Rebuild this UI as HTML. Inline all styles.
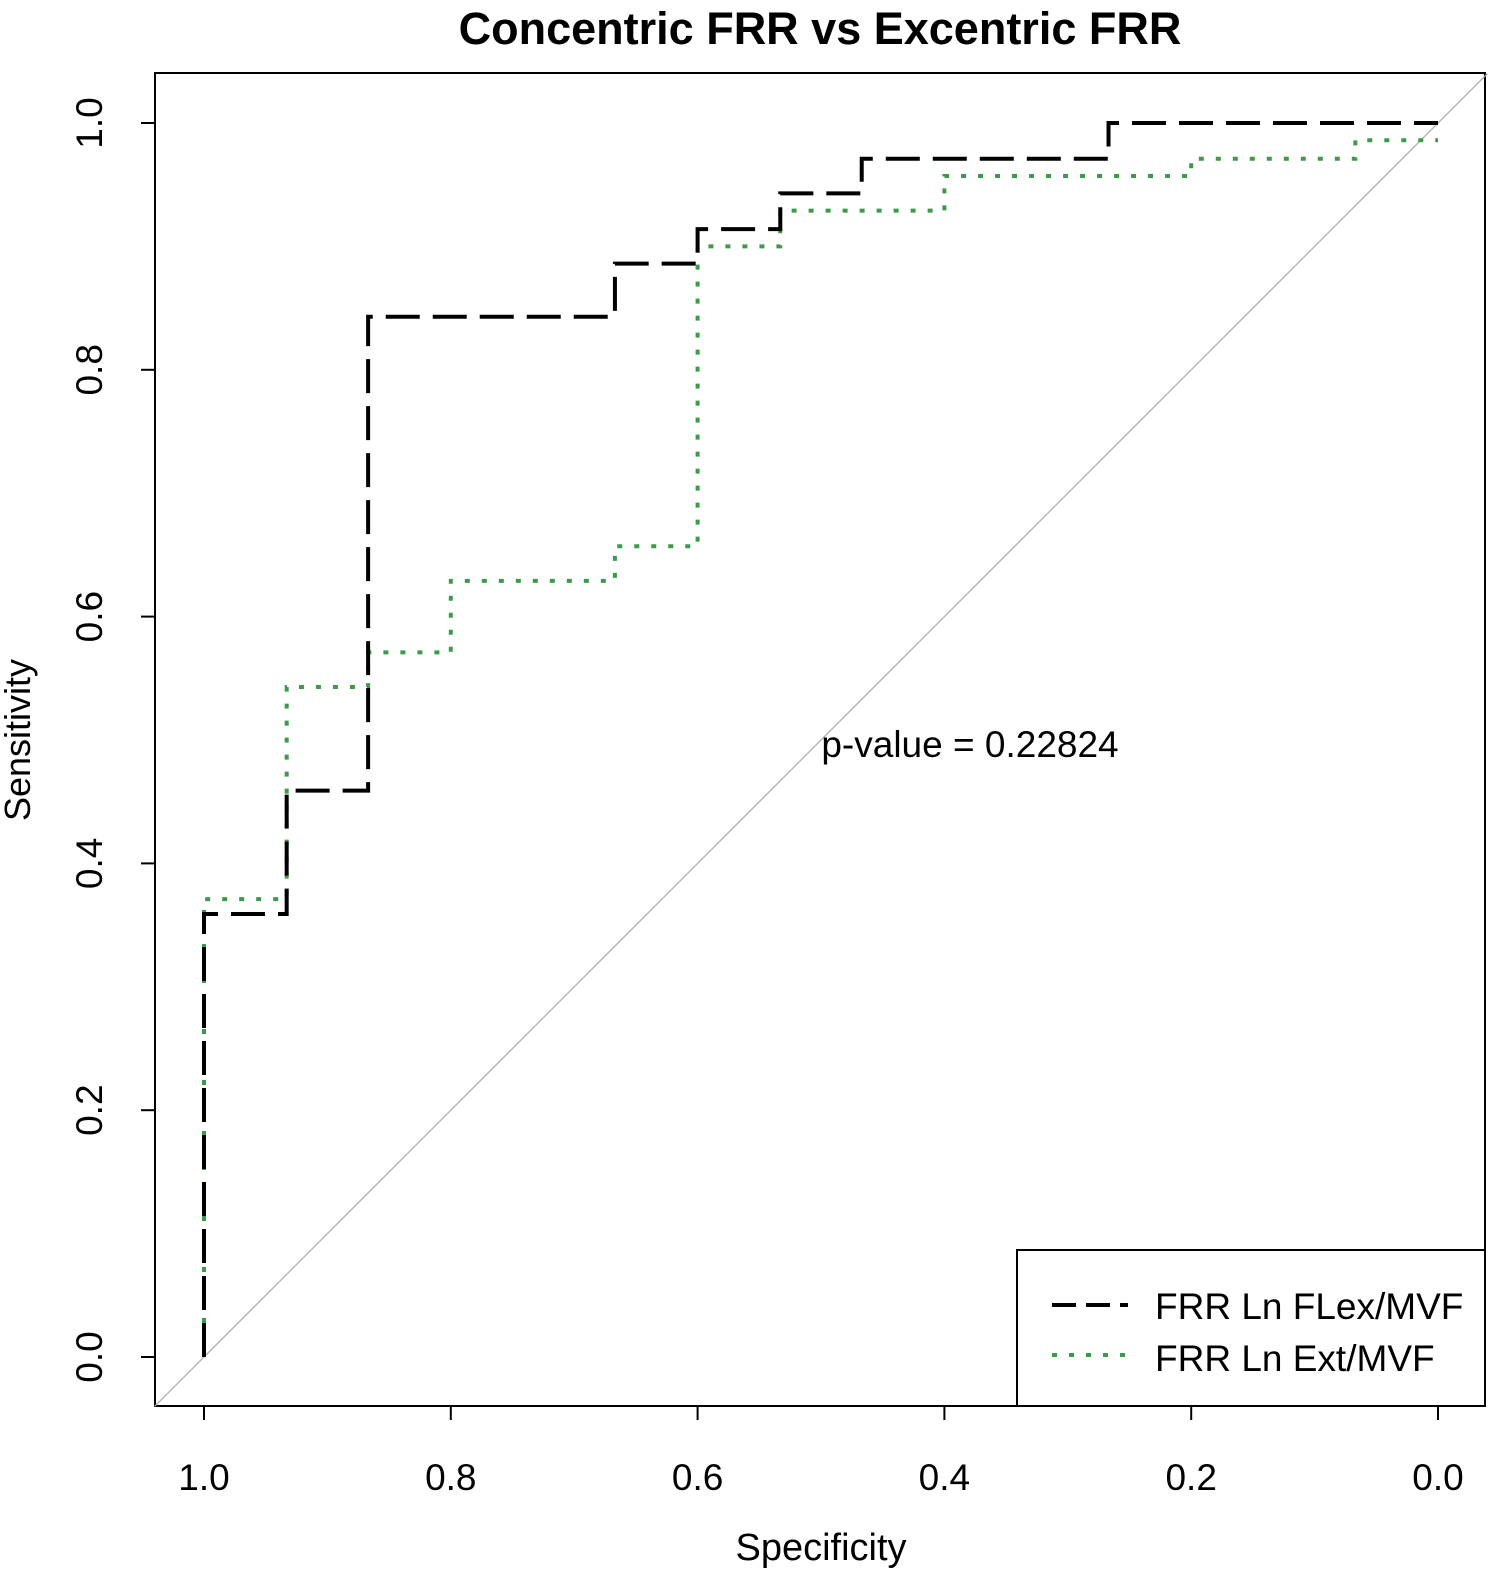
<!DOCTYPE html>
<html><head><meta charset="utf-8"><style>
html,body{margin:0;padding:0;background:#fff;}
svg{display:block;font-family:"Liberation Sans",Arial,sans-serif;}
</style></head><body>
<svg id="chart" width="1493" height="1572" viewBox="0 0 1493 1572">
<text x="820" y="44" text-anchor="middle" font-size="45" font-weight="bold">Concentric FRR vs Excentric FRR</text>
<rect x="155" y="73" width="1330" height="1333" fill="none" stroke="#000" stroke-width="2"/>
<g id="axes"></g>
<g id="series"></g>
<text x="970" y="757" text-anchor="middle" font-size="37">p-value = 0.22824</text>
<text x="821" y="1560" text-anchor="middle" font-size="38">Specificity</text>
<text transform="translate(30,740) rotate(-90)" text-anchor="middle" font-size="36">Sensitivity</text>
<g>
<rect x="1017" y="1250" width="468" height="156" fill="#fff" stroke="#000" stroke-width="2"/>
<line x1="1052" y1="1305" x2="1128" y2="1305" stroke="#000" stroke-width="4" stroke-dasharray="24,10"/>
<text x="1155" y="1319" font-size="37">FRR Ln FLex/MVF</text>
<line x1="1052" y1="1355" x2="1128" y2="1355" stroke="#3d9a4a" stroke-width="4" stroke-dasharray="5,12"/>
<text x="1155" y="1371" font-size="37">FRR Ln Ext/MVF</text>
</g>
</svg>
<script>
const xTicks=[1.0,0.8,0.6,0.4,0.2,0.0];
const xTickLabels=["1.0","0.8","0.6","0.4","0.2","0.0"];
const yTicks=[0,0.2,0.4,0.6,0.8,1.0];
const yTickLabels=["0.0","0.2","0.4","0.6","0.8","1.0"];
const flexSpec=[1,1,0.933,0.933,0.867,0.867,0.667,0.667,0.6,0.6,0.533,0.533,0.467,0.467,0.267,0.267,0];
const flexSens=[0,0.359,0.359,0.459,0.459,0.843,0.843,0.886,0.886,0.914,0.914,0.943,0.943,0.971,0.971,1,1];
const extSpec=[1,1,0.933,0.933,0.867,0.867,0.8,0.8,0.667,0.667,0.6,0.6,0.533,0.533,0.4,0.4,0.2,0.2,0.067,0.067,0];
const extSens=[0,0.371,0.371,0.543,0.543,0.571,0.571,0.629,0.629,0.657,0.657,0.9,0.9,0.929,0.929,0.957,0.957,0.971,0.971,0.986,0.986];
const NS="http://www.w3.org/2000/svg";
const X=v=>1438-v*1234;
const Y=v=>1357-v*1234;
const axes=document.getElementById('axes');
function mk(t,a,p){const e=document.createElementNS(NS,t);for(const k in a)e.setAttribute(k,a[k]);p.appendChild(e);return e;}
const d=mk('line',{x1:X(1.04),y1:Y(-0.04),x2:X(-0.04),y2:Y(1.04),stroke:'#aaa','stroke-width':1.2},axes);


xTicks.forEach((v,i)=>{
 const l=mk('line',{x1:X(v),x2:X(v),y1:1406,y2:1420,stroke:'#000','stroke-width':2},axes);
 
 
 const t=mk('text',{x:X(v),y:1490,'text-anchor':'middle','font-size':37},axes);
 t.textContent=xTickLabels[i];
 
 
});
mk('line',{x1:X(1),x2:X(0),y1:1406,y2:1406,stroke:'#000','stroke-width':2},axes);
yTicks.forEach((v,i)=>{
 const l=mk('line',{x1:141,x2:155,y1:Y(v),y2:Y(v),stroke:'#000','stroke-width':2},axes);
 
 
 const t=mk('text',{transform:`translate(102,${Y(v)}) rotate(-90)`,'text-anchor':'middle','font-size':37},axes);
 t.textContent=yTickLabels[i];
 
 
});
const g=document.getElementById('series');
function pts(xs,ys){return xs.map((v,i)=>X(v)+','+Y(ys[i])).join(' ');}
const p2=mk('polyline',{points:pts(extSpec,extSens),fill:'none',stroke:'#3d9a4a','stroke-width':4,'stroke-dasharray':'5,12'},g);


const p1=mk('polyline',{points:pts(flexSpec,flexSens),fill:'none',stroke:'#000','stroke-width':4,'stroke-dasharray':'34,13'},g);


</script>
</body></html>
